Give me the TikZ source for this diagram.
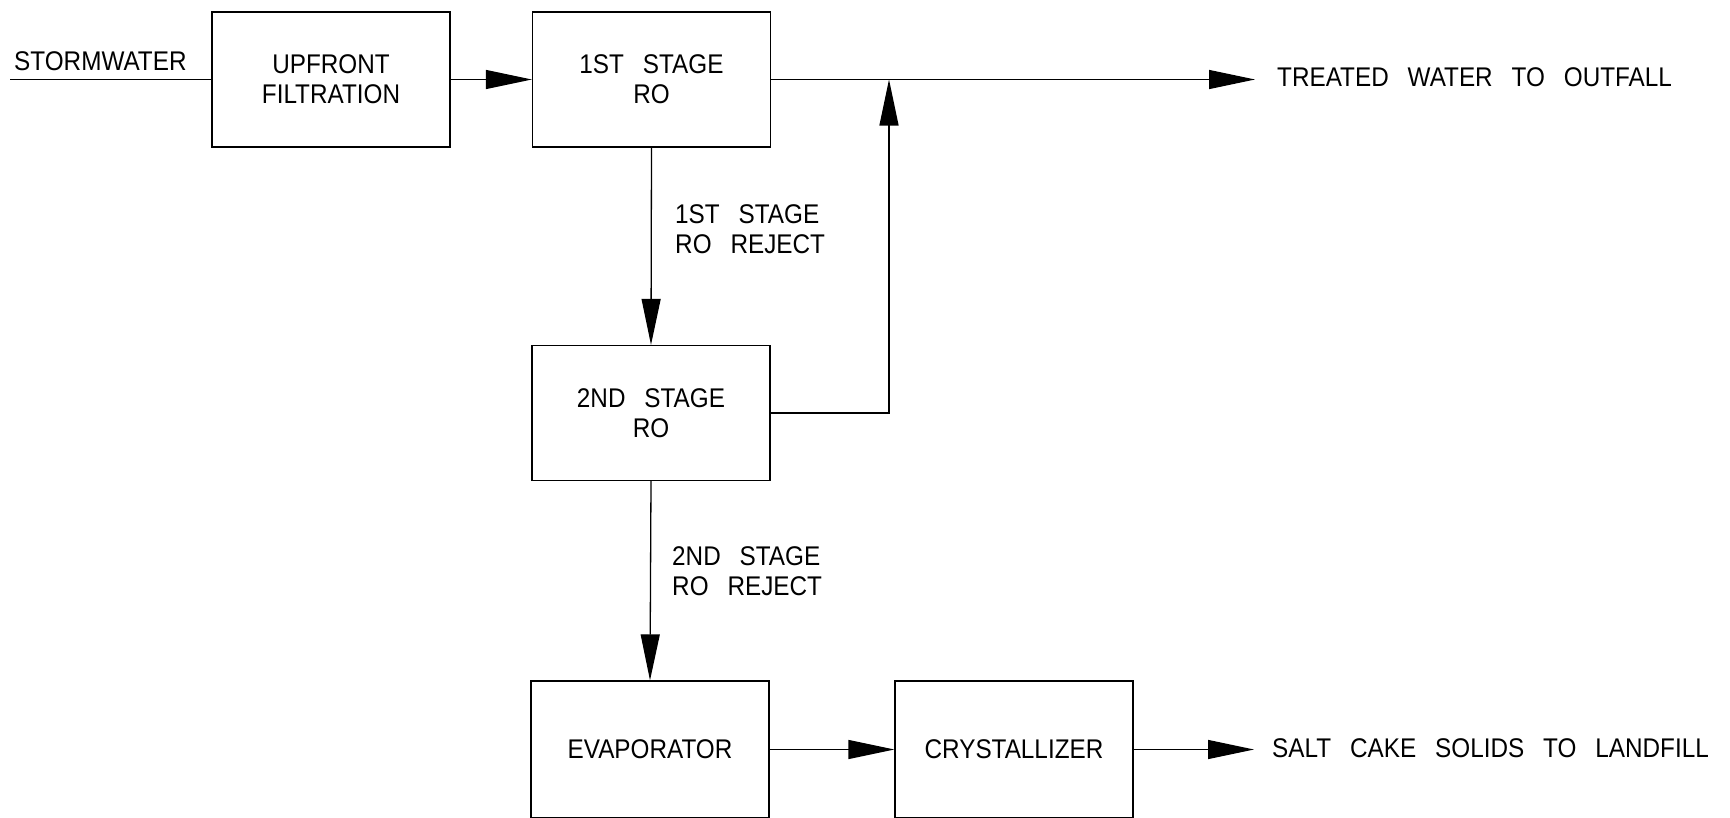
\documentclass[tikz,border=0pt]{standalone}
\usepackage{fontspec}
\setmainfont{Liberation Sans}[FakeStretch=0.9,WordSpace=2.8]
\usetikzlibrary{arrows.meta}
\begin{document}
\begin{tikzpicture}[x=1pt,y=-1pt,
  every node/.style={font=\fontsize{27}{30}\selectfont},
  unit/.style={draw,line width=1.3pt,minimum width=238pt,minimum height=135pt,inner sep=0pt,align=center},
  lbl/.style={inner sep=0pt,anchor=west,align=left},
  flow/.style={line width=1.3pt},
  arr/.style={line width=1.3pt,-{Triangle[length=46pt,width=19pt]}}]
\useasboundingbox (0,0) rectangle (1730,817);
\node[unit] (uf) at (331,79.5) {UPFRONT\\FILTRATION};
\node[unit] (s1) at (651.5,79.5) {1ST STAGE\\RO};
\node[unit] (s2) at (651,413) {2ND STAGE\\RO};
\node[unit,minimum height=137pt] (ev) at (650,749.5) {EVAPORATOR};
\node[unit,minimum height=137pt] (cr) at (1014,749.5) {CRYSTALLIZER};
\node[lbl] (sw) at (14,61) {STORMWATER};
\node[lbl] (tw) at (1277,77) {TREATED WATER TO OUTFALL};
\node[lbl] (sc) at (1272,748) {SALT CAKE SOLIDS TO LANDFILL};
\node[lbl] (r1) at (675,229.5) {1ST STAGE\\RO REJECT};
\node[lbl] (r2) at (672,571) {2ND STAGE\\RO REJECT};
\coordinate (in) at (10,79.5);
\coordinate (j) at (889,79.5);
\coordinate (out) at (1255,79.5);
\coordinate (salt) at (1254,749.5);
\draw[flow] (in) -- (uf.west);
\draw[arr] (uf.east) -- (s1.west);
\draw[arr] (s1.east) -- (out);
\draw[arr] (s2.east) -| (j);
\draw[arr] (s1.south) -- (s2.north);
\draw[arr] (s2.south) -- (ev.north);
\draw[arr] (ev.east) -- (cr.west);
\draw[arr] (cr.east) -- (salt);
\end{tikzpicture}
\end{document}
